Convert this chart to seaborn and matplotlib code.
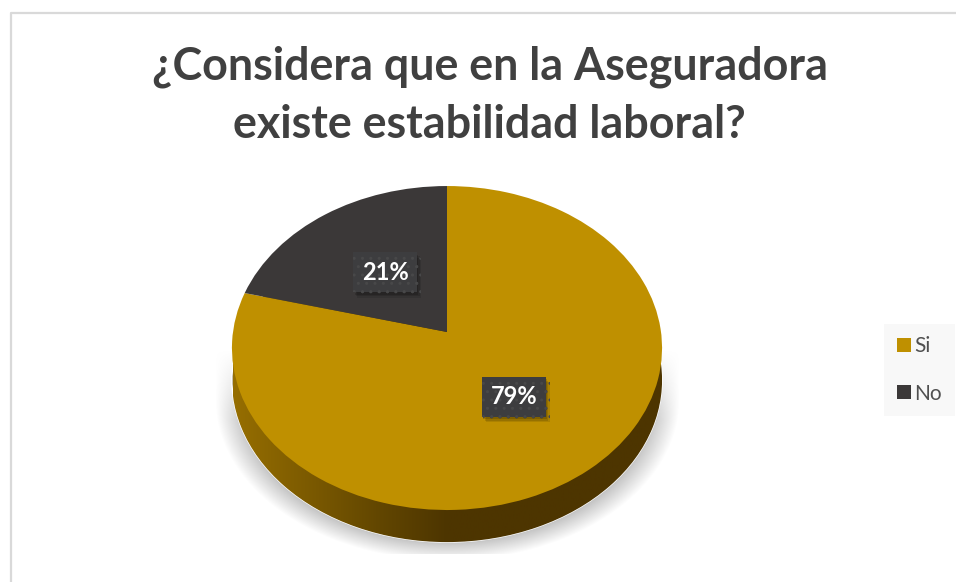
"""Pie de estabilidad laboral, con inclinacion y borde tipo 3D."""

import numpy as np
import matplotlib
matplotlib.use("Agg")
import matplotlib.pyplot as plt
import matplotlib.patheffects as pe
import matplotlib.transforms as mtransforms
from matplotlib.lines import Line2D
import seaborn as sns

# Data
CATEGORIES = ["Si", "No"]
VALUES = [79, 21]
TITLE = "¿Considera que en la Aseguradora\nexiste estabilidad laboral?"

# Look
SLICE_COLORS = ["#BF9000", "#3B3838"]
RIM_COLORS = ["#966E00", "#7D5B00", "#634700", "#4D3500", "#4D3500", "#4D3500", "#4D3500"]
W, H = 956, 582
CX, CY = 447, 332       # apex of the slices, px
UNIT_X, UNIT_Y = 214, 160.4
TILT = 0.0989
DEPTH = 0.2
LIM = 1.6

sns.set_theme(style="white")
plt.rcParams['font.family'] = ['Lato', 'DejaVu Sans']


class TiltTransform(mtransforms.Transform):
    """Perspective for the pie, far edge gets smaller."""
    input_dims = 2
    output_dims = 2

    def __init__(self, k):
        super().__init__()
        self.k = k

    def transform_non_affine(self, values):
        values = np.asarray(values, dtype=float)
        w = 1 + self.k * values[:, 1]
        return np.column_stack([values[:, 0] / w, values[:, 1] / w])


fig = plt.figure(figsize=(W / 100, H / 100), dpi=100, facecolor="white")

# Soft shadow under the pie: straight sides higher up, round at the bottom
bg = fig.add_axes([0, 0, 1, 1], zorder=0)
bg.set_axis_off()
yy, xx = np.mgrid[0:H, 0:W]
dy = np.clip(yy - 400, 0, None) / 160
dist = np.sqrt(((xx - CX) / 232) ** 2 + dy ** 2)
alpha = np.clip((1 - dist) / 0.12, 0, 1) * np.clip((yy - 350) / 70, 0, 1)
alpha[yy > 553] = 0
shadow = np.zeros((H, W, 4))
shadow[..., :3] = 0.76
shadow[..., 3] = alpha
bg.imshow(shadow, aspect="auto", extent=(0, W, H, 0), interpolation="bilinear")

# Chart border, only left and top show up in the crop
fig.add_artist(Line2D([10.5 / W, 10.5 / W, 1], [0, 1 - 12.5 / H, 1 - 12.5 / H],
                      color="#D9D9D9", lw=1.6))

fig.text(489.5 / W, 1 - 96 / H, TITLE, ha="center", va="center", fontsize=32.3,
         fontweight="bold", color="#404040", linespacing=1.47)

ax_w, ax_h = 2 * LIM * UNIT_X, 2 * LIM * UNIT_Y
ax = fig.add_axes([(CX - ax_w / 2) / W, (H - CY - ax_h / 2) / H, ax_w / W, ax_h / H], zorder=1)
tilt = TiltTransform(TILT)

# Side of the pie: same shape moved down, filled with a horizontal gradient
rim_wedges, _ = ax.pie([sum(VALUES)], colors=[RIM_COLORS[-1]], radius=1)
rim_shift = tilt + mtransforms.Affine2D().translate(0, -DEPTH) + ax.transData
rim_wedges[0].set_transform(rim_shift)
rim_wedges[0].set_zorder(0.4)
rim_cmap = sns.blend_palette(RIM_COLORS, as_cmap=True)
rim = ax.imshow(np.linspace(0, 1, 256)[None, :], cmap=rim_cmap, aspect="auto",
                extent=(-1, 1, -1.4, 1), zorder=0.5)
rim.set_clip_path(rim_wedges[0])

palette = sns.color_palette(SLICE_COLORS)
wedges, _, pct_texts = ax.pie(VALUES, colors=palette, startangle=90, counterclock=False,
                              radius=1, autopct="%.0f%%", pctdistance=0.49,
                              textprops={"color": "white", "fontsize": 17, "fontweight": "bold"})
for w in wedges:
    w.set_transform(tilt + ax.transData)
    w.set_zorder(1)
    w.set_linewidth(0)

for t in pct_texts:
    t.set_transform(tilt + ax.transData)
    t.set_zorder(3)
    t.set_bbox(dict(boxstyle="square,pad=0.36", facecolor="#3D3D3F", edgecolor="#484849",
                    linewidth=0, hatch=".."))
    # a few faint shadows stacked, reads softer than one hard one
    t.get_bbox_patch().set_path_effects([
        pe.SimplePatchShadow(offset=(3, -4), shadow_rgbFace="#000000", alpha=0.10),
        pe.SimplePatchShadow(offset=(2, -3), shadow_rgbFace="#000000", alpha=0.12),
        pe.SimplePatchShadow(offset=(1, -2), shadow_rgbFace="#000000", alpha=0.15),
        pe.Normal(),
    ])

ax.set_aspect("auto")
ax.set_xlim(-LIM, LIM)
ax.set_ylim(-LIM, LIM)
ax.patch.set_alpha(0)

leg = ax.legend(wedges, CATEGORIES, loc="center", bbox_to_anchor=(919.5 / W, 1 - 370 / H),
                bbox_transform=fig.transFigure, frameon=True, fancybox=False,
                facecolor="#F8F8F8", edgecolor="none", framealpha=1, fontsize=15,
                handlelength=0.68, handleheight=0.68, handletextpad=0.15, labelspacing=1.3,
                borderpad=0.62, borderaxespad=0)
for txt in leg.get_texts():
    txt.set_color("#505050")

fig.savefig("out.png", dpi=100)
plt.close(fig)
